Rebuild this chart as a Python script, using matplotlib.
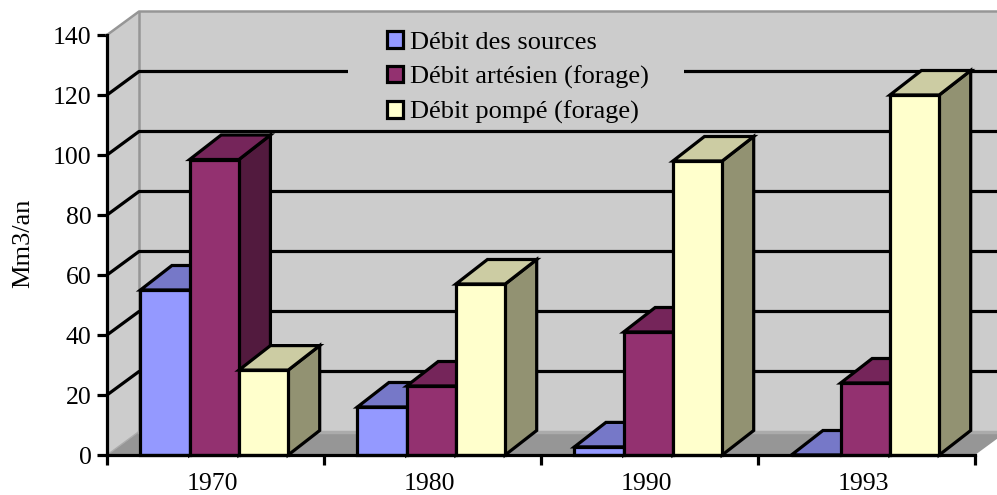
import matplotlib
matplotlib.use('Agg')
import matplotlib.pyplot as plt
from matplotlib.patches import Patch, Polygon, Rectangle

categories = ['1970', '1980', '1990', '1993']
sources = [55, 16, 2.7, 0]
artesien = [98.5, 23, 41, 24]
pompe = [28.3, 57, 98, 120]
y_ticks = [0, 20, 40, 60, 80, 100, 120, 140]
series_names = ['Débit des sources', 'Débit artésien (forage)', 'Débit pompé (forage)']

# front, top, side colours of each series
blue = ('#9499FF', '#7678C8', '#5C5C99')
purple = ('#933170', '#75255A', '#521A3E')
yellow = ('#FFFFCC', '#CCCCA3', '#929272')

# depth of the 3D box in data units (32 px, 23.5 px), bars a bit deeper
DX = 32 / 217
DY = 23.5 / 3
BAR_DX = 31.5 / 217
BAR_DY = 24.5 / 3
BAR_START = 0.154
BAR_W = 0.227

plt.rcParams['font.family'] = ['Liberation Serif', 'DejaVu Serif']
LW = 2.3

fig = plt.figure(figsize=(9.97, 4.95), dpi=100)
ax = fig.add_axes([107 / 997, 40 / 495, 868 / 997, 420 / 495])
ax.set_xlim(0, 4)
ax.set_ylim(0, 140)
ax.patch.set_visible(False)


def poly(pts, color, edge='none', lw=0, z=1):
    ax.add_patch(Polygon(pts, closed=True, facecolor=color, edgecolor=edge, linewidth=lw,
                         joinstyle='miter', zorder=z, clip_on=False))


# walls and floor
poly([(0, 0), (DX, DY), (4 + DX, DY), (4, 0)], '#969696', z=1)
poly([(DX, DY), (4 + DX, DY), (4 + DX, 140 + DY), (DX, 140 + DY)], '#CCCCCC', z=1)
poly([(0, 0), (DX, DY), (DX, 140 + DY), (0, 140)], '#CCCCCC', z=1)
ax.plot([0, DX, 4 + DX], [140, 140 + DY, 140 + DY], color='#969696', lw=1.8, zorder=2, clip_on=False)
ax.plot([DX, DX], [DY, 140 + DY], color='#969696', lw=1.8, zorder=2, clip_on=False)
ax.plot([DX, 4 + DX], [DY, DY], color='#ABABAB', lw=2.5, zorder=2, clip_on=False)
ax.plot([0, DX], [0, DY], color='#ABABAB', lw=1, zorder=2, clip_on=False)

# gridlines
for v in y_ticks[1:-1]:
    ax.plot([0, DX, 4 + DX], [v, v + DY, v + DY], color='black', lw=LW, zorder=2, clip_on=False)

# the legend's background hides the gridline behind it
ax.add_patch(Rectangle(((348 - 107) / 217, (455 - 125) / 3), 336 / 217, 105 / 3,
                       facecolor='#CCCCCC', edgecolor='none', zorder=3))

# bars
edge = dict(edge='black', lw=LW, z=4)
for i in range(len(categories)):
    for j, (vals, cols) in enumerate([(sources, blue), (artesien, purple), (pompe, yellow)]):
        x0 = i + BAR_START + j * BAR_W
        x1 = x0 + BAR_W
        v = vals[i]
        poly([(x1, 0), (x1 + BAR_DX, BAR_DY), (x1 + BAR_DX, v + BAR_DY), (x1, v)], cols[2], **edge)
        poly([(x0, v), (x0 + BAR_DX, v + BAR_DY), (x1 + BAR_DX, v + BAR_DY), (x1, v)], cols[1], **edge)
        poly([(x0, 0), (x1, 0), (x1, v), (x0, v)], cols[0], **edge)

# axes
for s in ['top', 'right']:
    ax.spines[s].set_visible(False)
for s in ['left', 'bottom']:
    ax.spines[s].set_linewidth(LW)
    ax.spines[s].set_zorder(6)
ax.set_yticks(y_ticks)
ax.set_xticks(range(5))
ax.set_xticklabels([])
ax.set_xticks([i + 0.485 for i in range(4)], categories, minor=True)
ax.tick_params(axis='y', length=7.5, width=LW, labelsize=18.5, pad=3.5)
ax.tick_params(axis='x', which='major', length=7.5, width=LW)
ax.tick_params(axis='x', which='minor', length=0, labelsize=18.5, pad=13)
ax.set_ylabel('Mm3/an', fontsize=19)
ax.yaxis.set_label_coords((34 - 107) / 868, (455 - 243.5) / 420)

handles = [Patch(facecolor=c[0], edgecolor='black', linewidth=LW) for c in (blue, purple, yellow)]
leg = ax.legend(handles, series_names, loc='center', frameon=False, fontsize=19,
                bbox_to_anchor=(518 / 997, (495 - 77.5) / 495), bbox_transform=fig.transFigure,
                handlelength=0.6, handleheight=0.6, handletextpad=0.28, labelspacing=0.45,
                borderpad=0)
leg.set_zorder(7)

fig.savefig('out.png', dpi=100)
